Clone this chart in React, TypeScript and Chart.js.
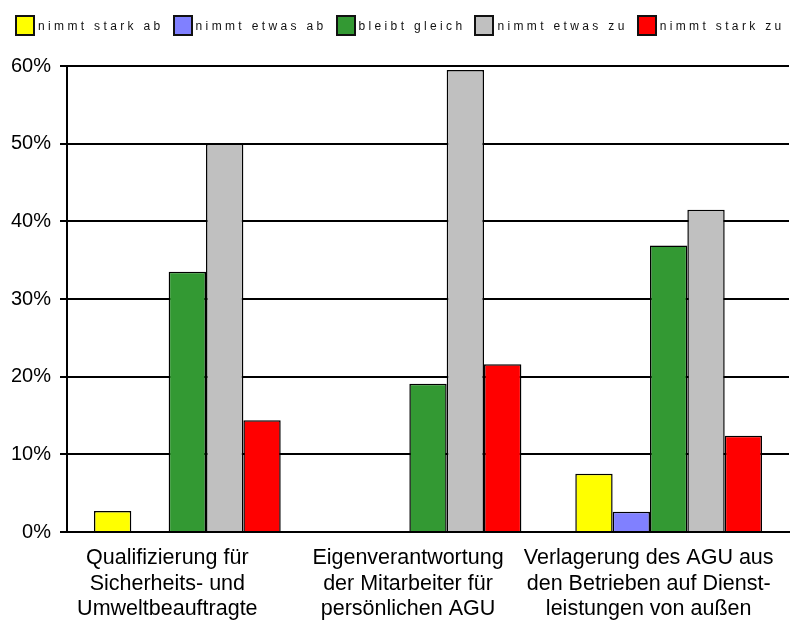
import React, { useEffect, useRef } from "react";
import { Chart, registerables } from "chart.js";

Chart.register(...registerables);

const categories: string[][] = [
  ["Qualifizierung für", "Sicherheits- und", "Umweltbeauftragte"],
  ["Eigenverantwortung", "der Mitarbeiter für", "persönlichen AGU"],
  ["Verlagerung des AGU aus", "den Betrieben auf Dienst-", "leistungen von außen"],
];

const seriesNames = ["nimmt stark ab", "nimmt etwas ab", "bleibt gleich", "nimmt etwas zu", "nimmt stark zu"];
const starkAb = [2.7, 0, 7.5];
const etwasAb = [0, 0, 2.6];
const gleich = [33.5, 19.1, 36.9];
const etwasZu = [50.0, 59.5, 41.5];
const starkZu = [14.4, 21.6, 12.4];
const seriesColors = ["#FFFF00", "#8080FF", "#339933", "#C0C0C0", "#FF0000"];
const yTicks = [0, 10, 20, 30, 40, 50, 60];

const FONT = "'Liberation Sans', Arial, sans-serif";

export default function App() {
  const ref = useRef<HTMLCanvasElement | null>(null);

  useEffect(() => {
    if (!ref.current) return;
    const values = [starkAb, etwasAb, gleich, etwasZu, starkZu];
    const chart = new Chart(ref.current, {
      type: "bar",
      data: {
        labels: categories,
        datasets: values.map((v, i) => ({
          label: seriesNames[i],
          data: v,
          backgroundColor: seriesColors[i],
          borderColor: "#000000",
          borderWidth: 1.5,
          borderSkipped: "bottom" as const,
          barPercentage: 1,
          categoryPercentage: 0.776,
        })),
      },
      options: {
        responsive: false,
        animation: false,
        events: [],
        layout: { padding: { top: 66, left: 0, right: 1, bottom: 0 } },
        plugins: { legend: { display: false }, tooltip: { enabled: false } },
        scales: {
          x: {
            grid: { display: false, drawTicks: false },
            border: { display: true, color: "#000", width: 2 },
            ticks: {
              autoSkip: false,
              maxRotation: 0,
              minRotation: 0,
              padding: 13,
              labelOffset: -20,
              color: "#000",
              font: { family: FONT, size: 21.5 },
            },
            afterFit: (s: any) => {
              s.height = 89;
              s.paddingLeft = 0;
              s.paddingRight = 0;
            },
          },
          y: {
            min: 0,
            max: 60,
            afterBuildTicks: (s: any) => {
              s.ticks = yTicks.map((v) => ({ value: v }));
            },
            grid: { color: "#000", lineWidth: 2, tickLength: 7, drawTicks: true },
            border: { display: true, color: "#000", width: 2 },
            ticks: {
              padding: 9,
              color: "#000",
              font: { family: FONT, size: 20 },
              callback: (v: any) => v + "%",
            },
            afterFit: (s: any) => {
              s.width = 67;
            },
          },
        },
      },
    });
    return () => chart.destroy();
  }, []);

  return (
    <div style={{ position: "fixed", left: 0, top: 0, width: 790, height: 621, background: "#fff" }}>
      <canvas ref={ref} width={790} height={621} style={{ display: "block" }} />
      <div
        style={{
          position: "absolute",
          left: 15,
          top: 15,
          display: "flex",
          alignItems: "center",
          fontFamily: FONT,
          fontSize: 12,
          letterSpacing: "3.35px",
          color: "#111",
          whiteSpace: "nowrap",
        }}
      >
        {seriesNames.map((n, i) => (
          <div key={n} style={{ display: "flex", alignItems: "center", marginRight: 9 }}>
            <div
              style={{
                width: 20,
                height: 21,
                boxSizing: "border-box",
                border: "2px solid #111",
                background: seriesColors[i],
              }}
            />
            <span style={{ marginLeft: 3 }}>{n}</span>
          </div>
        ))}
      </div>
    </div>
  );
}
